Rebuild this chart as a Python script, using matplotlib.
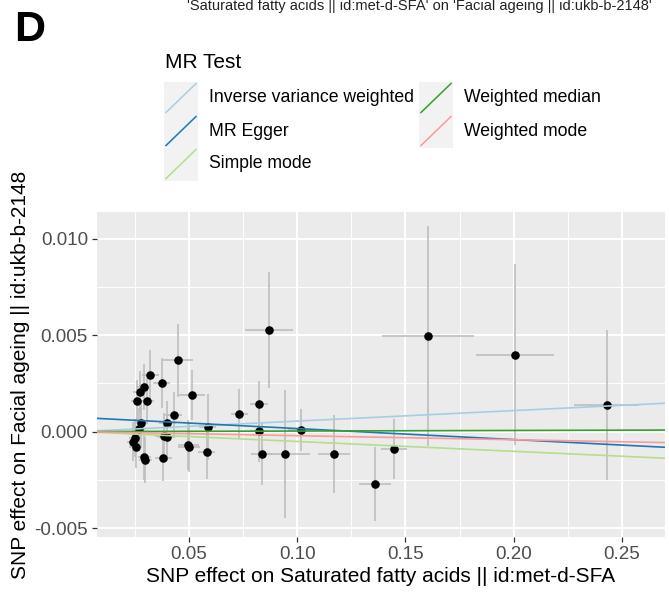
import matplotlib
matplotlib.use("Agg")
import matplotlib.pyplot as plt
from matplotlib.lines import Line2D
from matplotlib.patches import Rectangle
import numpy as np

plt.rcParams['font.family'] = ['Liberation Sans', 'DejaVu Sans']

# ---- data ----
beta_exp = [0.243, 0.1603, 0.2006, 0.1447, 0.136, 0.087, 0.0823, 0.0823, 0.0733, 0.0836,
            0.0943, 0.1016, 0.117, 0.0448, 0.0322, 0.0374, 0.0292, 0.0273, 0.0261, 0.0307,
            0.0514, 0.0429, 0.0400, 0.0276, 0.0267, 0.0587, 0.0252, 0.0243, 0.0254, 0.0384,
            0.0397, 0.0497, 0.0501, 0.0581, 0.0294, 0.0297, 0.0381]
beta_out = [0.00138, 0.00496, 0.00399, -0.00088, -0.00271, 0.00525, 0.00143, 0.00005, 0.00093, -0.00116,
            -0.00116, 0.00009, -0.00116, 0.0037, 0.00295, 0.0025, 0.0023, 0.00205, 0.0016, 0.0016,
            0.0019, 0.00086, 0.00047, 0.00043, 0.00012, 0.00025, -0.00034, -0.00052, -0.00078, -0.00024,
            -0.00029, -0.00069, -0.00081, -0.00104, -0.0013, -0.00147, -0.00138]
se_exp = [0.015, 0.0213, 0.018, 0.006, 0.0074, 0.011, 0.004, 0.004, 0.004, 0.005,
          0.0115, 0.006, 0.0076, 0.007, 0.004, 0.004, 0.003, 0.003, 0.003, 0.003,
          0.006, 0.004, 0.004, 0.003, 0.003, 0.004, 0.003, 0.003, 0.003, 0.004,
          0.004, 0.005, 0.005, 0.004, 0.003, 0.003, 0.004]
se_out = [0.0039, 0.0057, 0.0047, 0.00155, 0.0019, 0.003, 0.0012, 0.0016, 0.0013, 0.0016,
          0.0033, 0.0011, 0.002, 0.0019, 0.0013, 0.0013, 0.0012, 0.0011, 0.0011, 0.0012,
          0.0013, 0.0012, 0.0011, 0.0012, 0.0011, 0.0017, 0.0010, 0.0010, 0.0011, 0.0012,
          0.0012, 0.0013, 0.0013, 0.0014, 0.0012, 0.0012, 0.0012]

methods = ["Inverse variance weighted", "MR Egger", "Simple mode", "Weighted median", "Weighted mode"]
method_colors = ["#a6cee3", "#1f78b4", "#b2df8a", "#33a02c", "#fb9a99"]
method_slopes = [0.00545, -0.00571, -0.0051, 0.0003, -0.0021]
method_intercepts = [0.0, 0.00073, 0.0, 0.0, 0.0]

x_ticks = [0.05, 0.10, 0.15, 0.20, 0.25]
y_ticks = [-0.005, 0.000, 0.005, 0.010]

title = "'Saturated fatty acids || id:met-d-SFA' on 'Facial ageing || id:ukb-b-2148'"
xlabel = "SNP effect on Saturated fatty acids || id:met-d-SFA"
ylabel = "SNP effect on Facial ageing || id:ukb-b-2148"

# ---- figure ----
W, H = 669, 603
fig = plt.figure(figsize=(W / 100, H / 100), dpi=100)
fig.patch.set_facecolor("white")

def fx(px):
    return px / W

def fy(py):
    return 1 - py / H

L, R, T, B = 97, 665, 212, 537
ax = fig.add_axes([fx(L), fy(B), fx(R) - fx(L), fy(T) - fy(B)])
ax.set_facecolor("#EBEBEB")
for s in ax.spines.values():
    s.set_visible(False)

ax.set_xlim(0.0075, 0.2699)
ax.set_ylim(-0.00546, 0.01138)

ax.set_xticks(x_ticks)
ax.set_xticklabels([f"{v:.2f}" for v in x_ticks])
ax.set_yticks(y_ticks)
ax.set_yticklabels([f"{v:.3f}" for v in y_ticks])
ax.set_xticks([0.025, 0.075, 0.125, 0.175, 0.225], minor=True)
ax.set_yticks([-0.0025, 0.0025, 0.0075], minor=True)
ax.grid(which="major", color="white", linewidth=1.4)
ax.grid(which="minor", color="white", linewidth=0.7)
ax.set_axisbelow(True)
ax.tick_params(which="major", length=3.5, width=0.9, color="#333333",
               labelcolor="#4D4D4D", labelsize=13.5, pad=3)
ax.tick_params(which="minor", length=0)

# error bars
ax.errorbar(beta_exp, beta_out, yerr=se_out, fmt="none", ecolor="#BEBEBE",
            elinewidth=1.2, capsize=0, zorder=2)
ax.errorbar(beta_exp, beta_out, xerr=se_exp, fmt="none", ecolor="#BEBEBE",
            elinewidth=1.2, capsize=0, zorder=2)
ax.scatter(beta_exp, beta_out, s=38, color="black", zorder=3, linewidths=0)

for m, c, sl, ic in zip(methods, method_colors, method_slopes, method_intercepts):
    ax.axline((0, ic), slope=sl, color=c, linewidth=1.2, zorder=4)

ax.set_xlabel(xlabel, fontsize=15, color="black", labelpad=3)
ax.set_ylabel(ylabel, fontsize=15, color="black", labelpad=3)

# ---- title and panel letter ----
fig.text(fx(419), fy(6), title, ha="center", va="center", fontsize=10.5, color="#222222")
fig.text(fx(14), fy(30), "D", ha="left", va="center", fontsize=31, fontweight="bold")

# ---- legend (ggplot style) ----
fig.text(fx(165), fy(62), "MR Test", ha="left", va="center", fontsize=15, color="black")
key_w, key_h = 34, 33
col_x = [164, 419]
row_y = [98, 131, 164]
positions = [(0, 0), (0, 1), (0, 2), (1, 0), (1, 1)]
for m, c, (ci, ri) in zip(methods, method_colors, positions):
    x0 = col_x[ci]
    yc = row_y[ri]
    fig.patches.append(Rectangle((fx(x0), fy(yc + key_h / 2)), key_w / W, key_h / H,
                                 transform=fig.transFigure, facecolor="#F2F2F2",
                                 edgecolor="none"))
    fig.lines.append(Line2D([fx(x0 + 2), fx(x0 + key_w - 2)],
                            [fy(yc + key_h / 2 - 2), fy(yc - key_h / 2 + 2)],
                            transform=fig.transFigure, color=c, linewidth=1.1))
    fig.text(fx(x0 + 45), fy(yc), m, ha="left", va="center", fontsize=12.7, color="black")

fig.savefig("out.png", dpi=100)
